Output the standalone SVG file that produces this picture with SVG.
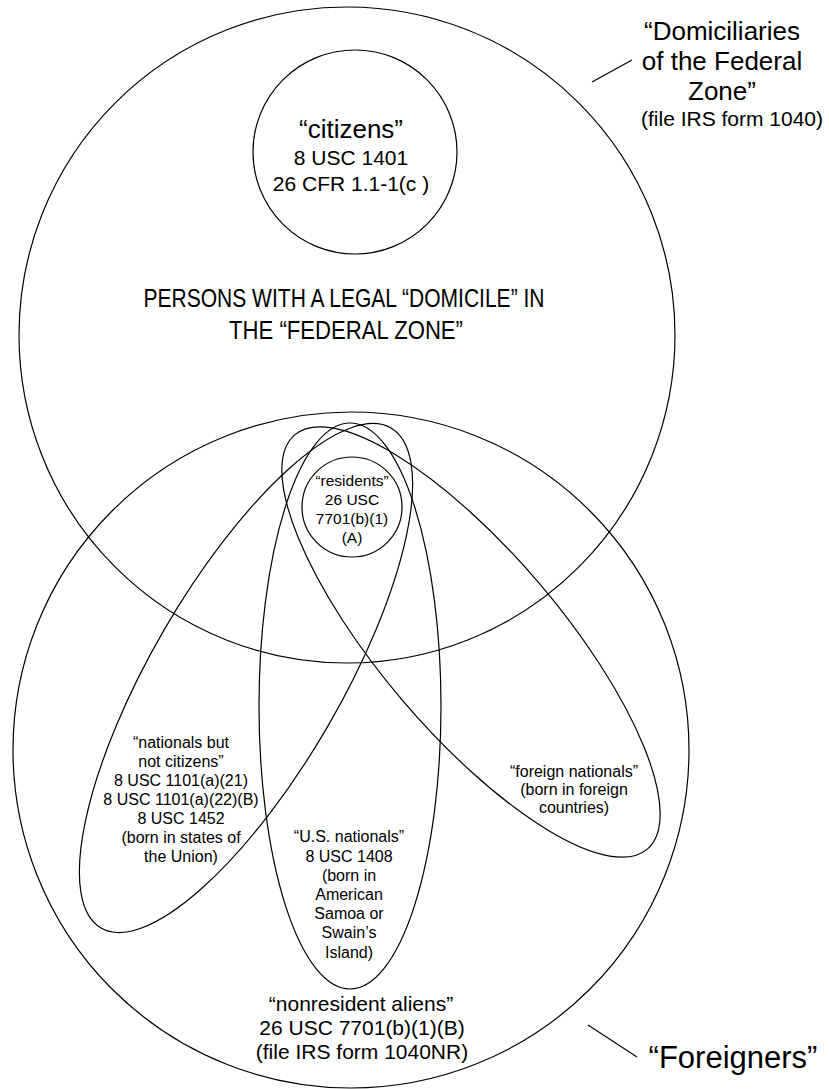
<svg xmlns="http://www.w3.org/2000/svg" width="829" height="1089" viewBox="0 0 829 1089">
<style>
.s{fill:none;stroke:#000;stroke-width:1.2}
text{font-family:"Liberation Sans",Arial,sans-serif;fill:#000;text-anchor:middle}
.t26{font-size:26px}.t21{font-size:21px}.t16{font-size:16px}.t15{font-size:15.5px}.t30{font-size:31px}
</style>
<rect width="829" height="1089" fill="#fff"/>
<g id="federal-zone">
<circle class="s" cx="347" cy="335" r="328"/>
<text x="344" y="307" font-size="26" textLength="401" lengthAdjust="spacingAndGlyphs">PERSONS WITH A LEGAL “DOMICILE” IN</text>
<text x="346" y="339" font-size="26" textLength="234" lengthAdjust="spacingAndGlyphs">THE “FEDERAL ZONE”</text>
</g>
<g id="foreigners">
<circle class="s" cx="351" cy="750" r="338"/>
<text class="t21" x="361" y="1011">“nonresident aliens”</text>
<text class="t21" x="362" y="1035">26 USC 7701(b)(1)(B)</text>
<text class="t21" x="362" y="1059">(file IRS form 1040NR)</text>
</g>
<g id="citizens">
<circle class="s" cx="355" cy="152" r="102"/>
<text class="t26" x="351" y="138">“citizens”</text>
<text class="t21" x="351" y="165">8 USC 1401</text>
<text class="t21" x="351" y="191">26 CFR 1.1-1(c )</text>
</g>
<g id="nationals-not-citizens">
<ellipse class="s" cx="0" cy="0" rx="289" ry="95" transform="translate(246,678) rotate(-59.9)"/>
<text class="t16" x="181" y="748">“nationals but</text>
<text class="t16" x="181" y="767">not citizens”</text>
<text class="t16" x="181" y="786">8 USC 1101(a)(21)</text>
<text class="t16" x="181" y="805">8 USC 1101(a)(22)(B)</text>
<text class="t16" x="181" y="824">8 USC 1452</text>
<text class="t16" x="181" y="843">(born in states of</text>
<text class="t16" x="181" y="862">the Union)</text>
</g>
<g id="foreign-nationals">
<ellipse class="s" cx="0" cy="0" rx="272" ry="90" transform="translate(471,642) rotate(49.6)"/>
<text class="t16" x="574" y="777">“foreign nationals”</text>
<text class="t16" x="574" y="795">(born in foreign</text>
<text class="t16" x="574" y="813">countries)</text>
</g>
<g id="us-nationals">
<ellipse class="s" cx="350" cy="706" rx="91" ry="283"/>
<text class="t16" x="349" y="842">“U.S. nationals”</text>
<text class="t16" x="349" y="862">8 USC 1408</text>
<text class="t16" x="349" y="881">(born in</text>
<text class="t16" x="349" y="900">American</text>
<text class="t16" x="349" y="919">Samoa or</text>
<text class="t16" x="349" y="938">Swain’s</text>
<text class="t16" x="349" y="958">Island)</text>
</g>
<g id="residents">
<circle class="s" cx="352" cy="507" r="50"/>
<text class="t15" x="352" y="486">“residents”</text>
<text class="t15" x="352" y="505">26 USC</text>
<text class="t15" x="352" y="524">7701(b)(1)</text>
<text class="t15" x="352" y="543">(A)</text>
</g>
<g id="label-domiciliaries">
<text class="t26" x="722" y="40">“Domiciliaries</text>
<text class="t26" x="722" y="70">of the Federal</text>
<text class="t26" x="722" y="100">Zone”</text>
<text class="t21" x="732" y="126">(file IRS form 1040)</text>
</g>
<g id="label-foreigners">
<text class="t30" x="733" y="1068">“Foreigners”</text>
</g>
<g id="connectors">
<line class="s" x1="592" y1="82" x2="632" y2="60"/>
<line class="s" x1="588" y1="1025" x2="637" y2="1057"/>
</g>
</svg>
